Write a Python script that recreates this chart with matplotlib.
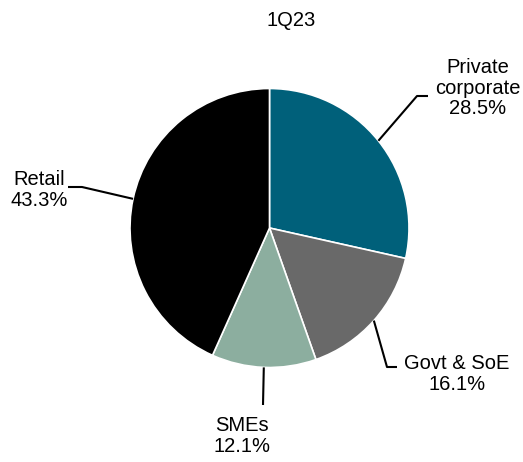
import numpy as np
import matplotlib

matplotlib.use("Agg")
import matplotlib.pyplot as plt

plt.rcParams["font.family"] = ["Liberation Sans", "DejaVu Sans"]

############### DATA ################
title = "1Q23"
segments = ["Private\ncorporate", "Govt & SoE", "SMEs", "Retail"]
shares = [28.5, 16.1, 12.1, 43.3]
colors = ["#00607a", "#696969", "#8cae9f", "#000000"]

############### LAYOUT (pixel space, y down) ##############
W, H = 523, 462
cx, cy, r = 269.5, 228, 139.5

# elbow points of the leader lines and text anchors, per segment
elbows = [(417, 96), (387, 367), (263, 405), (82, 187)]
ends = [(428, 96), (397, 367), (263, 405), (68, 187)]
text_pos = [(478, 88), (457, 374), (242, 436), (39, 190)]

fig = plt.figure(figsize=(W / 100, H / 100), dpi=100)
ax = fig.add_axes([0, 0, 1, 1])


def py(y):
    # pixel row -> data y
    return H - y


wedges, _ = ax.pie(
    shares,
    colors=colors,
    startangle=90,
    counterclock=False,
    center=(cx, py(cy)),
    radius=r,
    wedgeprops=dict(edgecolor="white", linewidth=1.2),
    frame=True,
)
ax.set_xlim(0, W)
ax.set_ylim(0, H)
ax.set_aspect("equal")
ax.axis("off")

for w, name, val, el, en, tp in zip(wedges, segments, shares, elbows, ends, text_pos):
    mid = np.deg2rad((w.theta1 + w.theta2) / 2)
    sx = cx + r * np.cos(mid)
    sy = py(cy) + r * np.sin(mid)
    ax.plot(
        [sx, el[0], en[0]],
        [sy, py(el[1]), py(en[1])],
        color="black",
        lw=1.5,
        solid_capstyle="butt",
    )
    ax.text(
        tp[0],
        py(tp[1]),
        f"{name}\n{val:.1f}%",
        ha="center",
        va="center",
        fontsize=14.5,
        linespacing=1.1,
    )

ax.text(291, py(20), title, ha="center", va="center", fontsize=14.5)

fig.savefig("out.png", dpi=100)
